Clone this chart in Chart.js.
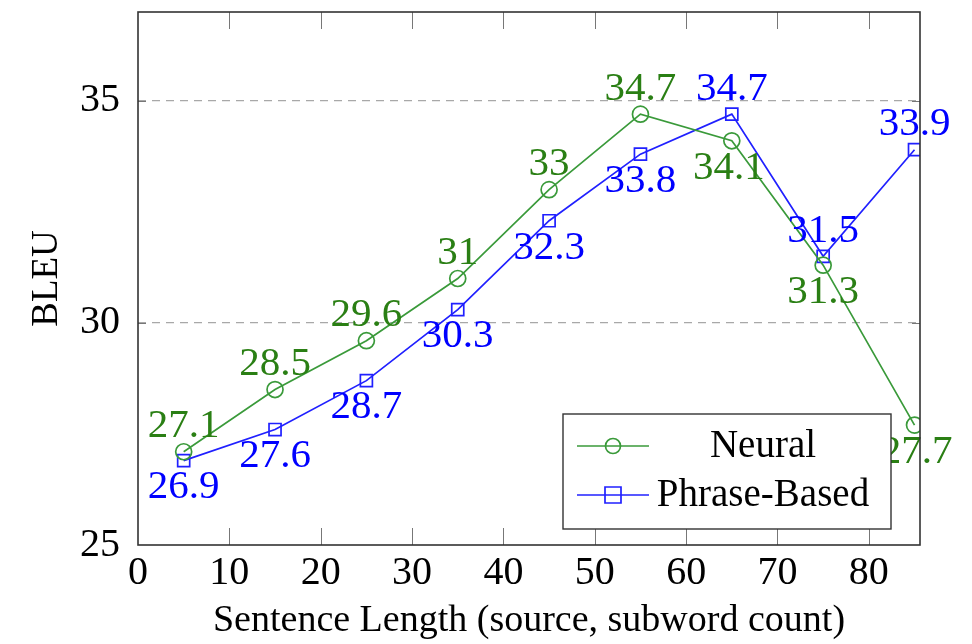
<!DOCTYPE html>
<html>
<head>
<meta charset="utf-8">
<script src="https://cdn.jsdelivr.net/npm/chart.js@4"></script>
<style>
  html, body { margin: 0; padding: 0; background: #fff; }
  #wrap { width: 972px; height: 644px; }
</style>
</head>
<body>
<div id="wrap"><canvas id="lenChart" width="972" height="644"></canvas></div>
<script>
const lengths = [5, 15, 25, 35, 45, 55, 65, 75, 85];
const neural = [27.1, 28.5, 29.6, 31, 33, 34.7, 34.1, 31.3, 27.7];
const phrase = [26.9, 27.6, 28.7, 30.3, 32.3, 33.8, 34.7, 31.5, 33.9];
// where each value label sits: 1 = above the mark, -1 = below
const neuralSide = [1, 1, 1, 1, 1, 1, -1, -1, -1];
const phraseSide = [-1, -1, -1, -1, -1, -1, 1, 1, 1];
const xTicks = [0, 10, 20, 30, 40, 50, 60, 70, 80];
const yTicks = [25, 30, 35];

const serif = '"Liberation Serif", "DejaVu Serif", serif';
const greenLine = '#3a9a3a';
const greenText = '#2a7f14';
const blueLine = '#2020ff';
const blueText = '#0000ff';

// frame, inward tick marks, legend box and point labels (pgfplots look)
const pgfLook = {
    id: 'pgfLook',
    afterDatasetsDraw(chart) {
        const ctx = chart.ctx;
        const a = chart.chartArea;
        const xs = chart.scales.x, ys = chart.scales.y;
        ctx.save();

        // value labels
        ctx.font = '41px ' + serif;
        ctx.textAlign = 'center';
        ctx.textBaseline = 'middle';
        chart.data.datasets.forEach((ds, i) => {
            const meta = chart.getDatasetMeta(i);
            meta.data.forEach((pt, j) => {
                const dy = ds.labelSide[j] > 0 ? -25 : 27;
                ctx.fillStyle = ds.labelColor;
                ctx.fillText(String(ds.data[j].y), pt.x + (ds.labelDx ? ds.labelDx[j] : 0), pt.y + dy);
            });
        });

        // inward ticks
        ctx.strokeStyle = '#777';
        ctx.lineWidth = 1;
        xTicks.forEach(v => {
            const px = Math.round(xs.getPixelForValue(v)) + 0.5;
            if (px <= a.left + 1) return;
            ctx.beginPath();
            ctx.moveTo(px, a.top); ctx.lineTo(px, a.top + 17);
            ctx.moveTo(px, a.bottom); ctx.lineTo(px, a.bottom - 17);
            ctx.stroke();
        });
        yTicks.forEach(v => {
            const py = Math.round(ys.getPixelForValue(v)) + 0.5;
            if (py >= a.bottom - 1) return;
            ctx.beginPath();
            ctx.moveTo(a.left, py); ctx.lineTo(a.left + 8, py);
            ctx.moveTo(a.right, py); ctx.lineTo(a.right - 8, py);
            ctx.stroke();
        });

        // frame
        ctx.strokeStyle = '#333';
        ctx.lineWidth = 1.6;
        ctx.strokeRect(a.left, a.top, a.right - a.left, a.bottom - a.top);

        // legend
        const lx = 563, ly = 414, lw = 328, lh = 115;
        ctx.fillStyle = '#fff';
        ctx.fillRect(lx, ly, lw, lh);
        ctx.strokeStyle = '#333';
        ctx.lineWidth = 1.4;
        ctx.strokeRect(lx, ly, lw, lh);
        const rows = [
            { text: 'Neural', color: greenLine, shape: 'circle', y: ly + 32 },
            { text: 'Phrase-Based', color: blueLine, shape: 'rect', y: ly + 81 }
        ];
        rows.forEach(r => {
            ctx.strokeStyle = r.color;
            ctx.lineWidth = 1.7;
            ctx.beginPath();
            ctx.moveTo(lx + 14, r.y); ctx.lineTo(lx + 86, r.y);
            ctx.stroke();
            ctx.beginPath();
            if (r.shape === 'circle') ctx.arc(lx + 50, r.y, 7.5, 0, Math.PI * 2);
            else ctx.rect(lx + 42, r.y - 8, 16, 16);
            ctx.stroke();
            ctx.fillStyle = '#000';
            ctx.font = '39px ' + serif;
            ctx.textAlign = 'center';
            ctx.textBaseline = 'middle';
            ctx.fillText(r.text, lx + 200, r.y + 1);
        });
        ctx.restore();
    }
};

const ctx0 = document.getElementById('lenChart').getContext('2d');
const lenChart = new Chart(ctx0, {
    type: 'line',
    data: {
        datasets: [
            {
                label: 'Neural',
                data: lengths.map((x, i) => ({ x: x, y: neural[i] })),
                borderColor: greenLine,
                backgroundColor: 'rgba(0,0,0,0)',
                borderWidth: 1.7,
                pointStyle: 'circle',
                pointRadius: 8,
                pointBorderWidth: 1.7,
                pointBorderColor: greenLine,
                pointBackgroundColor: 'rgba(0,0,0,0)',
                labelColor: greenText,
                labelSide: neuralSide,
                labelDx: [0, 0, 0, 0, 0, 0, -3, 0, 2],
                tension: 0
            },
            {
                label: 'Phrase-Based',
                data: lengths.map((x, i) => ({ x: x, y: phrase[i] })),
                borderColor: blueLine,
                backgroundColor: 'rgba(0,0,0,0)',
                borderWidth: 1.7,
                pointStyle: 'rect',
                pointRadius: 8.5,
                pointBorderWidth: 1.7,
                pointBorderColor: blueLine,
                pointBackgroundColor: 'rgba(0,0,0,0)',
                labelColor: blueText,
                labelSide: phraseSide,
                tension: 0
            }
        ]
    },
    options: {
        responsive: false,
        animation: false,
        layout: { padding: { left: 0, right: 52, top: 12, bottom: 0 } },
        scales: {
            x: {
                type: 'linear',
                min: 0,
                max: 85.6,
                afterBuildTicks: s => { s.ticks = xTicks.map(v => ({ value: v })); },
                afterFit: s => { s.height = 99; s.paddingLeft = 0; s.paddingRight = 0; },
                grid: { display: false, drawTicks: false },
                border: { display: false },
                ticks: {
                    color: '#000',
                    font: { family: serif, size: 40 },
                    padding: 4,
                    maxRotation: 0
                },
                title: {
                    display: true,
                    text: 'Sentence Length (source, subword count)',
                    color: '#000',
                    font: { family: serif, size: 38 },
                    padding: { top: 0, bottom: 0 }
                }
            },
            y: {
                type: 'linear',
                min: 25,
                max: 37,
                afterBuildTicks: s => { s.ticks = yTicks.map(v => ({ value: v })); },
                afterFit: s => { s.width = 138; s.paddingTop = 0; s.paddingBottom = 0; },
                grid: {
                    drawTicks: false,
                    color: ctx => ctx.tick && ctx.tick.value === 25 ? 'rgba(0,0,0,0)' : '#a8a8a8',
                    lineWidth: 1.3
                },
                border: { display: false, dash: [8, 6] },
                ticks: {
                    color: '#000',
                    font: { family: serif, size: 40 },
                    padding: 18
                },
                title: {
                    display: true,
                    text: 'BLEU',
                    color: '#000',
                    font: { family: serif, size: 37 },
                    padding: { top: 25, bottom: 8 }
                }
            }
        },
        plugins: {
            legend: { display: false },
            tooltip: { enabled: false }
        }
    },
    plugins: [pgfLook]
});
</script>
</body>
</html>
